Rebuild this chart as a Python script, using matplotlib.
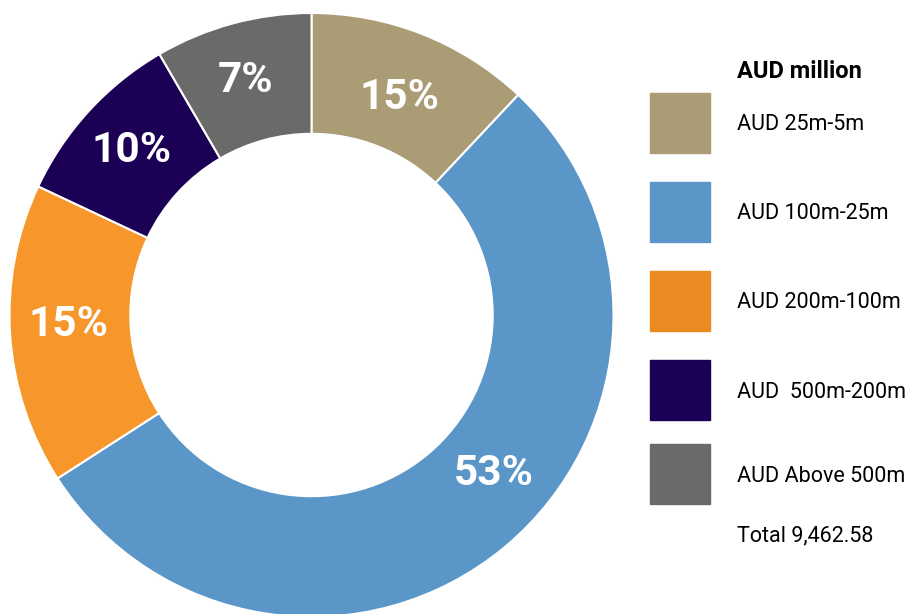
import matplotlib
matplotlib.use("Agg")
import matplotlib.pyplot as plt
from matplotlib.patches import Rectangle

# slice shares (clockwise from 12 o'clock)
bands = ["AUD 25m-5m", "AUD 100m-25m", "AUD 200m-100m", "AUD  500m-200m", "AUD Above 500m"]
shares = [12.0, 53.9, 16.1, 9.6, 8.4]
pct_labels = ["15%", "53%", "15%", "10%", "7%"]
pie_colors = ["#AA9C74", "#5B96C8", "#F7962A", "#1C0055", "#6A6A68"]
legend_colors = ["#AA9C74", "#5B96C8", "#EC8A22", "#1C0055", "#6A6A68"]
legend_title = "AUD million"
total_text = "Total 9,462.58"

# label centres in pie units (radius = 1)
label_xy = [(0.290, 0.720), (0.603, -0.525), (-0.803, -0.031), (-0.597, 0.546), (-0.217, 0.775)]

plt.rcParams["font.family"] = ["Roboto", "DejaVu Sans"]

W, H = 909, 614
fig = plt.figure(figsize=(W / 100, H / 100), dpi=100)

cx, cy, R = 311.5, 315, 302
ax = fig.add_axes([(cx - R) / W, (H - cy - R) / H, 2 * R / W, 2 * R / H])
ax.pie(shares, colors=pie_colors, startangle=90, counterclock=False, radius=1,
       wedgeprops=dict(width=0.4, edgecolor="white", linewidth=1.5))
for (x, y), t in zip(label_xy, pct_labels):
    ax.text(x, y, t, color="white", fontsize=30.5, fontweight="bold",
            ha="center", va="center")
ax.set_xlim(-1, 1)
ax.set_ylim(-1, 1)
ax.set_aspect("equal")
ax.axis("off")

# legend drawn by hand
sq_left, sq_size = 650, 60
sq_centres = [123, 211.7, 300.7, 390, 474]
text_x = 737
fig.text(text_x / W, 1 - 71.5 / H, legend_title, fontsize=17, fontweight="bold",
         va="center", ha="left")
for c, yc, lab in zip(legend_colors, sq_centres, bands):
    fig.patches.append(Rectangle((sq_left / W, 1 - (yc + sq_size / 2) / H),
                                 sq_size / W, sq_size / H, color=c,
                                 transform=fig.transFigure, figure=fig))
    fig.text(text_x / W, 1 - (yc + 2) / H, lab, fontsize=15.5, va="center", ha="left")
fig.text(text_x / W, 1 - 536 / H, total_text, fontsize=15.5, va="center", ha="left")

fig.savefig("out.png", dpi=100)
